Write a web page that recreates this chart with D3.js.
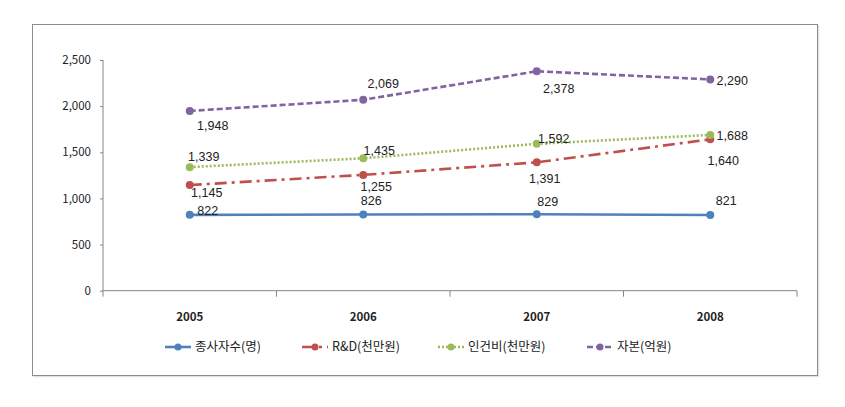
<!DOCTYPE html>
<html><head><meta charset="utf-8">
<script src="https://cdn.jsdelivr.net/npm/d3@7"></script>
<style>body{margin:0;background:#fff}svg{display:block}text{font-family:"Noto Sans CJK KR","Noto Sans",sans-serif}</style>
</head><body>
<script>
const categories = ["2005","2006","2007","2008"];
const seriesNames = ["종사자수(명)","R&D(천만원)","인건비(천만원)","자본(억원)"];
const employees = [822, 826, 829, 821];
const rnd = [1145, 1255, 1391, 1640];
const labor = [1339, 1435, 1592, 1688];
const capital = [1948, 2069, 2378, 2290];
const yTicks = [0, 500, 1000, 1500, 2000, 2500];

// styling / layout (not data)
const colors = ["#4F81BD","#C0504D","#9BBB59","#8064A2"];
const dashes = [null, "12,5,3,5", "2,2", "6,3"];
const labelOffsets = [
  [[18,-4],[8,-14],[11,-13],[16,-14]],
  [[17,8],[13,12],[8,16],[13,21]],
  [[14,-11],[16,-8],[17,-5],[22,1]],
  [[23,15],[20,-16],[22,17],[22,1]]
];
const legendX = [165, 302, 438, 587];

const W = 845, H = 407;
const svg = d3.select("body").append("svg").attr("width", W).attr("height", H);
svg.append("rect").attr("x",33.5).attr("y",25.5).attr("width",785).attr("height",351).attr("fill","none").attr("stroke","#e4e4e4").attr("stroke-width",1.5);
svg.append("rect").attr("x",32.5).attr("y",24.5).attr("width",785).attr("height",351).attr("fill","#fff").attr("stroke","#8c8c8c").attr("stroke-width",1);

const x = d3.scaleBand().domain(categories).range([103, 797]).padding(0);
const y = d3.scaleLinear().domain([0, 2500]).range([290.7, 60]);
const cx = c => x(c) + x.bandwidth()/2;

// y axis
const yAxis = d3.axisLeft(y).tickValues(yTicks).tickSize(3).tickPadding(9).tickFormat(d3.format(","));
const gy = svg.append("g").attr("transform","translate(103,0)").call(yAxis);
gy.select(".domain").attr("stroke","#868686").attr("d","M0,60V290.7");
gy.selectAll(".tick line").attr("stroke","#868686");
gy.selectAll("text").attr("font-size","11.5px").attr("fill","#222").style("font-family","'Noto Sans CJK KR'");

// x axis
const gx = svg.append("g").attr("transform","translate(0,290.7)");
gx.append("line").attr("x1",103).attr("x2",797).attr("stroke","#868686");
const bounds = categories.map(c => x(c)).concat([x(categories[categories.length-1]) + x.bandwidth()]);
gx.selectAll("line.t").data(bounds).join("line").attr("class","t")
  .attr("x1",d=>d).attr("x2",d=>d).attr("y1",0).attr("y2",6).attr("stroke","#868686");
gx.selectAll("text").data(categories).join("text")
  .attr("x", d=>cx(d)).attr("y", 30).attr("text-anchor","middle")
  .attr("font-size","11.5px").attr("fill","#222").attr("font-weight","bold").text(d=>d);

const allSeries = [employees, rnd, labor, capital];
const line = d3.line().x((d,i)=>cx(categories[i])).y(d=>y(d));

allSeries.forEach((vals, s) => {
  const g = svg.append("g");
  g.append("path").datum(vals).attr("d", line).attr("fill","none")
    .attr("stroke", colors[s]).attr("stroke-width", 2.6)
    .attr("stroke-dasharray", dashes[s]);
  g.selectAll("circle").data(vals).join("circle")
    .attr("cx",(d,i)=>cx(categories[i])).attr("cy",d=>y(d)).attr("r",4).attr("fill",colors[s]);
});
allSeries.forEach((vals, s) => {
  svg.append("g").selectAll("text").data(vals).join("text")
    .attr("x",(d,i)=>cx(categories[i]) + labelOffsets[s][i][0])
    .attr("y",(d,i)=>y(d) + labelOffsets[s][i][1])
    .attr("dy","0.35em").attr("text-anchor","middle")
    .attr("font-size","12.5px").attr("fill","#222")
    .style("font-family","'Liberation Sans Narrow','Liberation Sans',sans-serif")
    .text(d=>d3.format(",")(d));
});

// legend
const ly = 347;
seriesNames.forEach((name, s) => {
  const g = svg.append("g").attr("transform", `translate(${legendX[s]},${ly})`);
  g.append("line").attr("x1",0).attr("x2",26).attr("y1",0).attr("y2",0)
    .attr("stroke",colors[s]).attr("stroke-width",2.6).attr("stroke-dasharray",dashes[s]);
  g.append("circle").attr("cx",13).attr("cy",0).attr("r",3.5).attr("fill",colors[s]);
  g.append("text").attr("x",30).attr("y",0).attr("dy","0.35em").attr("font-size","12.5px")
    .attr("fill","#222").text(name);
});
</script>
</body></html>
